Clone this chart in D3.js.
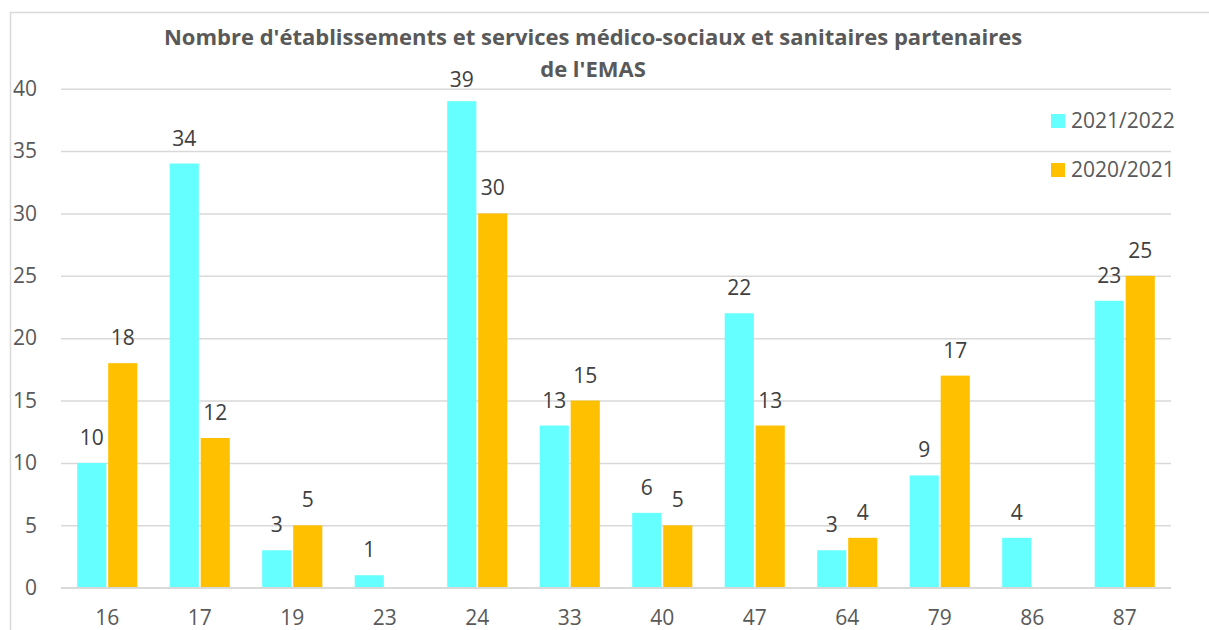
<!DOCTYPE html>
<html>
<head>
<meta charset="utf-8">
<script src="https://cdn.jsdelivr.net/npm/d3@7"></script>
<style>
  body { margin: 0; background: #fff; }
  svg { font-family: "Open Sans", "Noto Sans", sans-serif; }
</style>
</head>
<body>
<svg></svg>
<script>
const departements = ['16','17','19','23','24','33','40','47','64','79','86','87'];
const serie2122 = [10, 34, 3, 1, 39, 13, 6, 22, 3, 9, 4, 23];
const serie2021 = [18, 12, 5, null, 30, 15, 5, 13, 4, 17, null, 25];
const seriesNames = ['2021/2022', '2020/2021'];
const seriesColors = ['#66FFFF', '#FFC000'];
const yTicks = [0, 5, 10, 15, 20, 25, 30, 35, 40];

const width = 1209, height = 630;
const plot = {left: 61, right: 1171, top: 88.7, bottom: 587.7};
const fontSize = '21px';

let svg = d3.select('svg')
    .attr('width', width)
    .attr('height', height);

// chart frame
svg.append('path')
    .attr('d', `M10.5,${height} L10.5,12.5 L${width},12.5`)
    .attr('fill', 'none')
    .attr('stroke', '#D9D9D9')
    .attr('stroke-width', 1.5);

let xScale = d3.scaleBand()
    .domain(departements)
    .range([plot.left, plot.right])
    .paddingInner(0.35)
    .paddingOuter(0.175);

let subScale = d3.scaleBand()
    .domain(seriesNames)
    .range([0, xScale.bandwidth()])
    .paddingInner(0.06);

let yScale = d3.scaleLinear()
    .domain([0, 40])
    .range([plot.bottom, plot.top]);

// gridlines + y labels
let yAxis = d3.axisLeft(yScale)
    .tickValues(yTicks)
    .tickSize(-(plot.right - plot.left))
    .tickPadding(24);
let yG = svg.append('g')
    .attr('transform', `translate(${plot.left},0)`)
    .call(yAxis);
yG.select('.domain').remove();
yG.selectAll('line').attr('stroke', '#D9D9D9').attr('stroke-width', 1.5);
yG.selectAll('text')
    .attr('fill', '#595959')
    .style('font-size', fontSize)
    .style('font-family', '"Open Sans", sans-serif');

// x labels
let xAxis = d3.axisBottom(xScale).tickSize(0).tickPadding(22);
let xG = svg.append('g')
    .attr('transform', `translate(0,${plot.bottom})`)
    .call(xAxis);
xG.select('.domain').remove();
xG.selectAll('text')
    .attr('fill', '#595959')
    .style('font-size', fontSize)
    .style('font-family', '"Open Sans", sans-serif');

// bars
let rows = departements.map((d, i) => ({
    dep: d,
    values: [
        {serie: seriesNames[0], value: serie2122[i], color: seriesColors[0]},
        {serie: seriesNames[1], value: serie2021[i], color: seriesColors[1]}
    ].filter(v => v.value !== null)
}));

let groups = svg.append('g')
    .selectAll('g')
    .data(rows)
    .enter()
    .append('g')
        .attr('transform', d => `translate(${xScale(d.dep)},0)`);

groups.selectAll('rect')
    .data(d => d.values)
    .enter()
    .append('rect')
        .attr('x', d => subScale(d.serie))
        .attr('y', d => yScale(d.value))
        .attr('width', subScale.bandwidth())
        .attr('height', d => yScale(0) - yScale(d.value))
        .attr('fill', d => d.color);

// baseline on top of bars
svg.append('line')
    .attr('x1', plot.left).attr('x2', plot.right)
    .attr('y1', plot.bottom).attr('y2', plot.bottom)
    .attr('stroke', '#D9D9D9')
    .attr('stroke-width', 1.5);

// data labels (kept below the title area like Excel does)
groups.selectAll('text')
    .data(d => d.values)
    .enter()
    .append('text')
        .attr('x', d => subScale(d.serie) + subScale.bandwidth() / 2)
        .attr('y', d => Math.max(yScale(d.value) - 18, 87))
        .attr('text-anchor', 'middle')
        .attr('fill', '#404040')
        .style('font-size', fontSize)
        .text(d => d.value);

// title
let title = svg.append('text')
    .attr('text-anchor', 'middle')
    .attr('fill', '#595959')
    .style('font-size', '22px')
    .style('font-weight', 'bold');
title.append('tspan').attr('x', 593).attr('y', 44.5)
    .text("Nombre d'établissements et services médico-sociaux et sanitaires partenaires");
title.append('tspan').attr('x', 593).attr('y', 76.5)
    .text("de l'EMAS");

// legend
let legend = svg.append('g')
    .selectAll('g')
    .data(seriesNames)
    .enter()
    .append('g')
        .attr('transform', (d, i) => `translate(1051,${114 + i * 49})`);
legend.append('rect')
    .attr('width', 14).attr('height', 14)
    .attr('fill', (d, i) => seriesColors[i]);
legend.append('text')
    .attr('x', 20).attr('y', 14)
    .attr('fill', '#595959')
    .style('font-size', fontSize)
    .text(d => d);
</script>
</body>
</html>
